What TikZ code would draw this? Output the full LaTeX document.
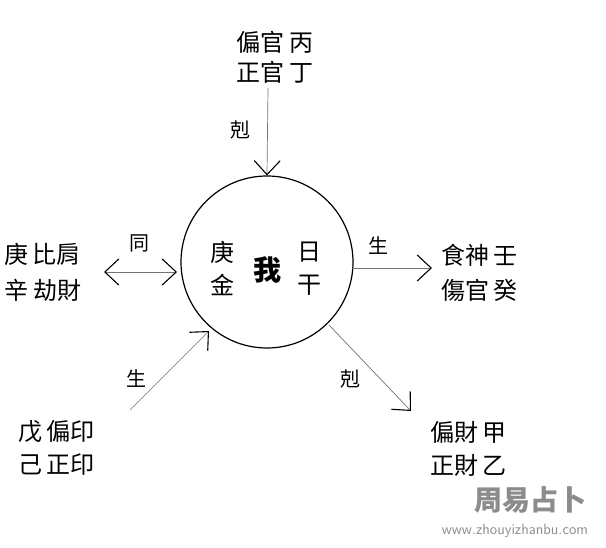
\documentclass[tikz,border=0pt]{standalone}
\usepackage{fontspec}
\newfontfamily\cjk{Noto Sans CJK TC}
\usetikzlibrary{arrows.meta}
\begin{document}
\begin{tikzpicture}[x=1pt,y=-1pt,
  txt/.style={font=\cjk\fontsize{24}{26}\selectfont,inner sep=0pt,anchor=west},
  lbl/.style={font=\cjk\fontsize{20}{22}\selectfont,inner sep=0pt},
  tip/.tip={Straight Barb[length=14pt,width=26pt,line width=1.1pt,color=black]},
  conn/.style={draw=black!55,line width=0.7pt,-tip},
  dconn/.style={draw=black!55,line width=0.7pt,tip-tip}]
\useasboundingbox (0,0) rectangle (606,548);
\node[circle,draw,line width=1.2pt,minimum size=172pt,inner sep=0pt] (me) at (267,262) {};
\node[txt] (g1) at (210,252) {庚};
\node[txt] (g2) at (210,285) {金};
\node[font=\cjk\bfseries\fontsize{28}{30}\selectfont,inner sep=0pt] (wo) at (267,270) {我};
\node[txt] (r1) at (297,252) {日};
\node[txt] (r2) at (297,285) {干};
% top
\node[txt] (t1) at (236,42) {偏官\ 丙};
\node[txt] (t2) at (236,72) {正官\ 丁};
\coordinate (ta) at (268,88);
\draw[conn] (ta) -- (me.north);
\node[lbl] (k1) at (240,130) {剋};
% left
\node[txt] (l1) at (4,254) {庚\,比肩};
\node[txt] (l2) at (4,290) {辛\ 劫財};
\coordinate (la) at (104,272);
\coordinate (lb) at (177,272);
\draw[dconn] (la) -- (lb);
\node[lbl] (tong) at (139,243) {同};
% right
\coordinate (ra) at (352,268);
\coordinate (rb) at (432,268);
\draw[conn] (ra) -- (rb);
\node[lbl] (s1) at (378,246) {生};
\node[txt] (rr1) at (441,255) {食神\,壬};
\node[txt] (rr2) at (441,290) {傷官\,癸};
% lower left
\coordinate (lla) at (130,410);
\coordinate (llb) at (209,331);
\draw[conn] (lla) -- (llb);
\node[lbl] (s2) at (136,379) {生};
\node[txt] (ll1) at (18,432) {戊\,偏印};
\node[txt] (ll2) at (18,465) {己\,正印};
% lower right
\coordinate (lra) at (329,325);
\coordinate (lrb) at (411,411);
\draw[conn] (lra) -- (lrb);
\node[lbl] (k2) at (350,379) {剋};
\node[txt] (lr1) at (430,432) {偏財\,甲};
\node[txt] (lr2) at (430,465) {正財\,乙};
% watermark
\node[font=\cjk\bfseries\fontsize{28}{30}\selectfont,text=black!45,inner sep=0pt] (wm) at (530,500) {周易占卜};
\node[font=\sffamily\fontsize{15}{16}\selectfont,text=black!45,inner sep=0pt] (url) at (515,531) {www.zhouyizhanbu.com};
\end{tikzpicture}
\end{document}
